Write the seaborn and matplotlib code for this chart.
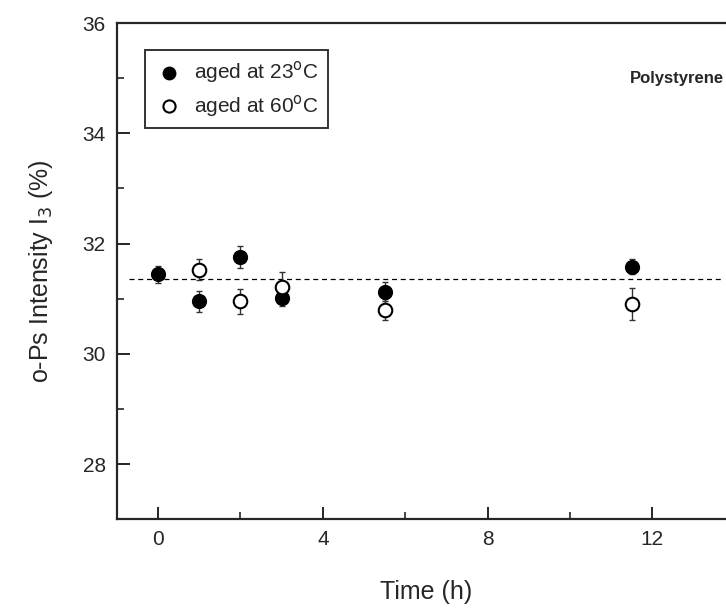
import numpy as np
import pandas as pd
import matplotlib
matplotlib.use('Agg')
import matplotlib.pyplot as plt
import seaborn as sns
from matplotlib.ticker import MultipleLocator

# Datos
t_23 = [0, 1, 2, 3, 5.5, 11.5]
i3_23 = [31.44, 30.95, 31.75, 31.01, 31.13, 31.58]
err_23 = [0.15, 0.19, 0.20, 0.15, 0.18, 0.14]

t_60 = [1, 2, 3, 5.5, 11.5]
i3_60 = [31.53, 30.95, 31.22, 30.80, 30.90]
err_60 = [0.19, 0.22, 0.26, 0.19, 0.29]

mean_i3 = 31.35

sns.set_style('ticks')
plt.rcParams['font.family'] = ['Liberation Sans', 'DejaVu Sans']

fig = plt.figure(figsize=(7.26, 6.08), dpi=100)
ax = fig.add_axes([0.161, 0.146, 0.851, 0.816])

df23 = pd.DataFrame({'t': t_23, 'I3': i3_23})
df60 = pd.DataFrame({'t': t_60, 'I3': i3_60})

# Linea promedio
ax.plot([-0.7, 13.7], [mean_i3, mean_i3], ls=(0, (4, 3)), color='black', lw=0.9, zorder=1)

# Barras de error
ax.errorbar(t_23, i3_23, yerr=err_23, fmt='none', ecolor='#333333', elinewidth=1, capsize=2, zorder=2)
ax.errorbar(t_60, i3_60, yerr=err_60, fmt='none', ecolor='#333333', elinewidth=1, capsize=2, zorder=2)

sns.scatterplot(data=df23, x='t', y='I3', ax=ax, marker='o', s=95, color='black',
                edgecolor='black', linewidth=1.2, label='aged at 23$^{\\rm o}$C', zorder=3)
sns.scatterplot(data=df60, x='t', y='I3', ax=ax, marker='o', s=95, color='white',
                edgecolor='black', linewidth=1.5, label='aged at 60$^{\\rm o}$C', zorder=3)

ax.set_xlim(-1, 14)
ax.set_ylim(27, 36)
ax.set_xticks([0, 4, 8, 12])
ax.set_yticks([28, 30, 32, 34, 36])
ax.xaxis.set_minor_locator(MultipleLocator(2))
ax.yaxis.set_minor_locator(MultipleLocator(1))
ax.tick_params(which='major', direction='in', length=9, width=1.4, labelsize=15, pad=8)
ax.tick_params(which='minor', direction='in', length=5, width=1.2)
for s in ax.spines.values():
    s.set_linewidth(1.6)
    s.set_visible(True)

ax.set_xlabel('Time (h)', fontsize=18, labelpad=22)
ax.set_ylabel('o-Ps Intensity I$_3$ (%)', fontsize=18, labelpad=20)

leg = ax.legend(loc='upper left', bbox_to_anchor=(0.045, 0.946), fontsize=15, frameon=True,
                fancybox=False, edgecolor='black', handletextpad=0.5, borderpad=0.45,
                labelspacing=0.35, markerscale=0.9, handlelength=1.4, borderaxespad=0)
leg.get_frame().set_linewidth(1.4)

ax.text(13.75, 35.0, 'Polystyrene', fontsize=12, fontweight='bold', va='center', ha='right')

plt.savefig('out.png', dpi=100)
